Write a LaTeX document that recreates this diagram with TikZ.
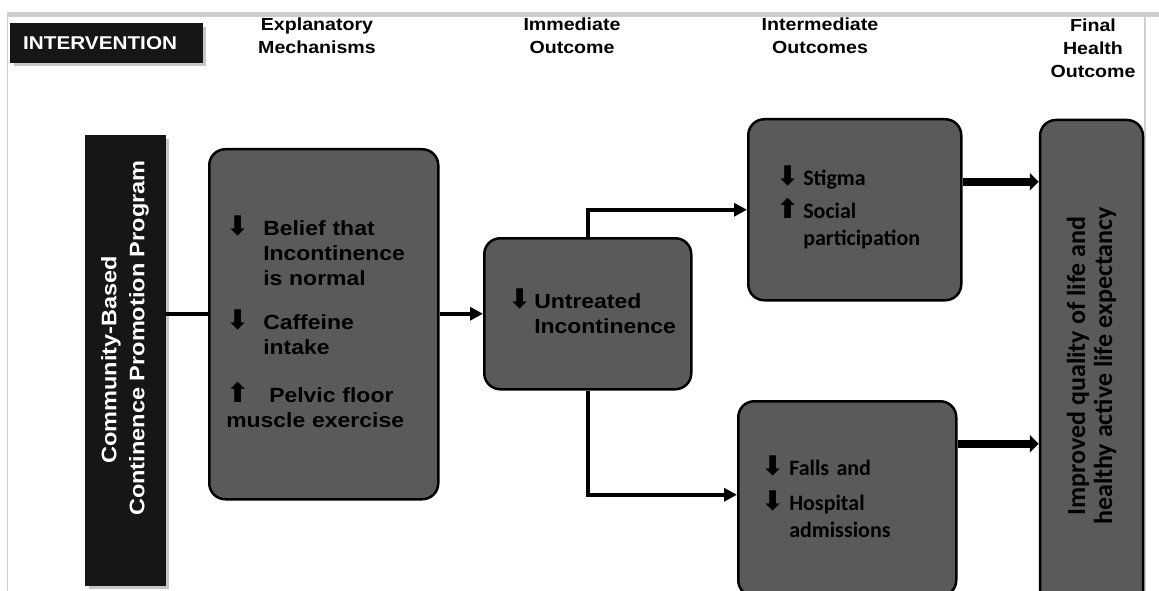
\documentclass[tikz,border=0pt]{standalone}
\usepackage{fontspec}
\setmainfont[FakeStretch=1.12]{Liberation Sans}
\newfontfamily\calfont{Carlito}
\newfontfamily\arrowfont{DejaVu Sans}
\definecolor{progBlack}{HTML}{161616}
\definecolor{boxGray}{HTML}{5A5A5A}
\definecolor{rimGray}{HTML}{CFCFCF}
\usetikzlibrary{arrows.meta,shadows}
\hyphenpenalty=10000
\exhyphenpenalty=10000
\newcommand{\dnarr}[1]{\makebox[#1][l]{\smash{\arrowfont\bfseries\fontsize{27}{27}\selectfont ⬇}}}
\newcommand{\uparr}[1]{\makebox[#1][l]{\smash{\arrowfont\bfseries\fontsize{27}{27}\selectfont ⬆}}}
\tikzset{
  >={Triangle[length=13pt,width=13pt]},
  hdr/.style={font=\fontsize{17.5}{23}\selectfont\bfseries,align=center},
  darkbox/.style={rectangle,fill=progBlack,draw=progBlack,text=white,inner sep=0pt},
  gbox/.style={rectangle,rounded corners=16pt,draw=black,line width=2.5pt,fill=boxGray,align=left},
  armtext/.style={font=\fontsize{20.5}{25}\selectfont\bfseries},
  caltext/.style={font=\calfont\fontsize{22}{27}\selectfont\bfseries},
  flow/.style={->,line width=4pt},
  bigflow/.style={-{Triangle[length=9pt,width=17pt]},line width=8pt},
}

\begin{document}
\begin{tikzpicture}[x=1pt,y=-1pt]
  \useasboundingbox (0,0) rectangle (1159,591);
  \clip (0,0) rectangle (1159,591);
  % frame lines of the slide
  \draw[rimGray, line width=5pt] (7,14.5) -- (1159,14.5);
  \draw[rimGray, line width=1pt] (7,17) -- (7,591);
  \draw[rimGray, line width=1.5pt] (1145,17) -- (1145,591);

  % column headings
  \node[hdr] (hmech)  at (317,36) {Explanatory\\Mechanisms};
  \node[hdr] (himm)   at (572,36) {Immediate\\Outcome};
  \node[hdr] (hinter) at (820,36) {Intermediate\\Outcomes};
  \node[hdr] (hfinal) at (1093,48) {Final\\Health\\Outcome};

  \node[darkbox, drop shadow={shadow xshift=4pt,shadow yshift=-4pt,opacity=0.45},
        anchor=north west, minimum width=192pt, minimum height=39pt,
        text width=166pt, inner xsep=13pt, align=left,
        font=\fontsize{18.5}{22}\selectfont\bfseries] (interv) at (10,23) {INTERVENTION};

  \node[darkbox, drop shadow={shadow xshift=4pt,shadow yshift=-4pt,opacity=0.45},
        rotate=90, minimum width=450pt, minimum height=80pt, align=center,
        font=\fontsize{21}{28}\selectfont\bfseries] (prog) at (125,360)
        {Community-Based\\\hspace*{44pt}Continence Promotion Program};

  \node[gbox, armtext, anchor=north west, minimum width=229pt, minimum height=350pt,
        inner xsep=17pt, text width=195pt] (mech) at (208,148)
        {\dnarr{37pt}Belief that\\
         \hspace*{37pt}Incontinence\\
         \hspace*{37pt}is normal\\[19pt]
         \dnarr{37pt}Caffeine\\
         \hspace*{37pt}intake\\[23pt]
         \uparr{43pt}Pelvic floor\\
         muscle exercise};

  \node[gbox, armtext, anchor=north west, minimum width=207pt, minimum height=151pt,
        inner xsep=24pt, text width=159pt] (imm) at (483,237)
        {\dnarr{26pt}Untreated\\
         \hspace*{26pt}Incontinence};

  \node[gbox, caltext, anchor=north west, minimum width=213pt, minimum height=181pt,
        inner xsep=28pt, text width=157pt] (stig) at (747,118)
        {\dnarr{27pt}Stigma\\[6pt]
         \uparr{27pt}Social\\
         \hspace*{27pt}participation};

  \node[gbox, caltext, anchor=north west, minimum width=218pt, minimum height=195pt,
        inner xsep=23pt, text width=172pt] (fall) at (737,400)
        {\dnarr{28pt}Falls and\\[8pt]
         \dnarr{28pt}Hospital\\
         \hspace*{28pt}admissions};

  \node[gbox, rotate=90, align=center, minimum width=492pt, minimum height=103pt,
        font=\calfont\fontsize{26}{27}\selectfont\bfseries] (final) at (1091.5,366)
        {Improved quality of life and\\healthy active life expectancy};

  % connectors
  \draw[line width=4pt] ([yshift=10pt]mech.west -| prog.south) -- ([yshift=10pt]mech.west);
  \draw[flow] (mech.east |- imm.west) -- (imm.west);
  \draw[flow] (imm.north) |- (stig.west);
  \draw[flow] (imm.south) |- ([yshift=4pt]fall.west);
  \draw[bigflow] ([yshift=28pt]stig.east) -- ([yshift=28pt]stig.east -| final.north);
  \draw[bigflow] ([yshift=55pt]fall.east) -- ([yshift=55pt]fall.east -| final.north);
\end{tikzpicture}
\end{document}
